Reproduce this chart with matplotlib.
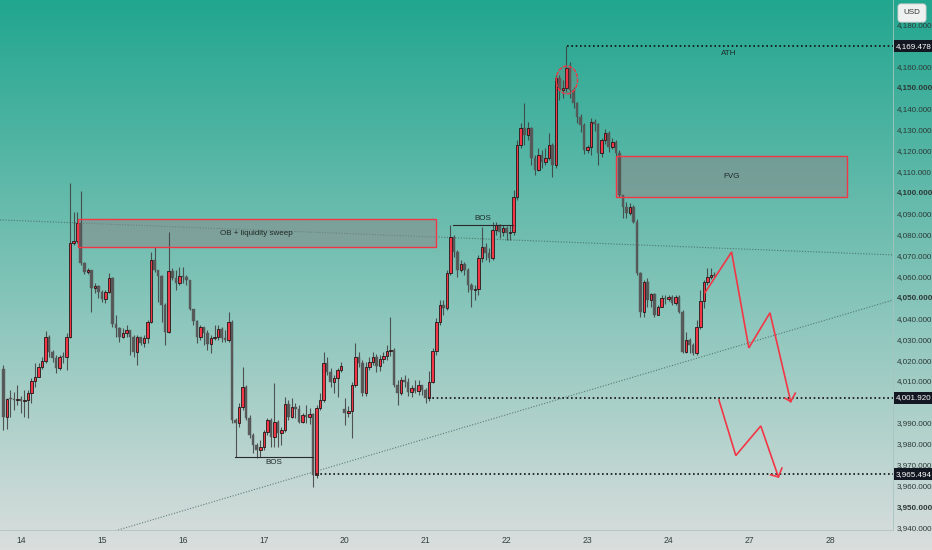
import matplotlib
matplotlib.use('Agg')
import matplotlib.pyplot as plt
import numpy as np
from matplotlib.patches import Rectangle, Ellipse
import matplotlib.transforms as mtransforms

plt.rcParams['font.family'] = ['Liberation Sans Narrow', 'Liberation Sans', 'DejaVu Sans']

# ---------------- data (hourly XAUUSD candles) ----------------
first_open = 4015.8
closes = [
    3992.9, 4001.5, 4001.5, 4001.0, 4001.5, 4000.5, 4001.0, 4004.3, 4010.1, 4012.0,
    4016.7, 4019.6, 4031.0, 4023.9, 4021.0, 4016.2, 4021.5, 4021.5, 4031.0, 4075.8,
    4076.8, 4085.3, 4066.3, 4062.0, 4062.9, 4054.4, 4055.3, 4052.5, 4049.1, 4052.5,
    4059.1, 4037.2, 4035.3, 4031.0, 4032.9, 4034.4, 4031.0, 4023.9, 4031.0, 4028.2,
    4030.5, 4038.2, 4067.7, 4062.9, 4060.1, 4046.3, 4033.4, 4062.5, 4059.1, 4056.7,
    4060.1, 4059.6, 4058.2, 4044.4, 4038.6, 4031.0, 4035.8, 4032.9, 4027.7, 4030.5,
    4031.0, 4034.8, 4030.5, 4029.6, 4038.2, 3991.5, 3990.0, 3997.7, 4007.2, 3992.4,
    3984.3, 3979.6, 3977.2, 3978.6, 3985.7, 3991.5, 3983.4, 3990.5, 3985.3, 3986.7,
    3999.1, 3992.9, 3997.7, 3996.7, 3990.5, 3993.9, 3992.9, 3994.5, 3965.3, 3997.2,
    4001.0, 4018.6, 4014.3, 4009.6, 4011.5, 4015.3, 4017.2, 3994.8, 3995.8, 4008.1,
    4021.5, 4018.6, 4004.3, 4016.7, 4019.1, 4021.5, 4017.0, 4020.5, 4022.0, 4024.4,
    4024.8, 4008.1, 4004.3, 4010.5, 4009.6, 4004.8, 4006.7, 4005.3, 4008.1, 4005.8,
    4001.9, 4009.6, 4024.4, 4038.2, 4046.3, 4044.8, 4061.5, 4078.7, 4071.5, 4062.9,
    4065.8, 4062.9, 4055.8, 4053.4, 4053.9, 4068.7, 4073.9, 4071.0, 4068.7, 4082.0,
    4084.4, 4081.1, 4083.0, 4080.6, 4081.1, 4097.7, 4122.5, 4130.6, 4127.3, 4130.6,
    4116.3, 4110.6, 4117.7, 4114.4, 4116.3, 4122.5, 4113.0, 4154.4, 4148.7, 4149.7,
    4159.2, 4148.7, 4142.5, 4136.0, 4132.0, 4120.1, 4121.5, 4133.5, 4132.5, 4118.7,
    4124.9, 4128.2, 4121.5, 4124.0, 4118.7, 4098.7, 4093.1, 4090.1, 4093.1, 4085.8,
    4061.5, 4043.0, 4057.2, 4048.6, 4051.5, 4041.5, 4045.3, 4049.6, 4049.1, 4050.0,
    4047.2, 4050.0, 4043.0, 4023.9, 4029.6, 4027.2, 4023.4, 4035.8, 4048.1, 4057.2,
    4059.6, 4060.6, 4060.1,
]
highs = [
    4017.7, 4002.0, 4005.8, 4004.8, 4008.1, 4003.0, 4005.8, 4005.8, 4011.5, 4018.6,
    4018.6, 4021.5, 4033.9, 4032.0, 4024.8, 4022.4, 4022.4, 4023.9, 4032.9, 4104.4,
    4090.6, 4090.6, 4100.6, 4066.8, 4063.9, 4062.9, 4056.7, 4055.8, 4053.4, 4053.4,
    4061.5, 4059.6, 4041.5, 4035.8, 4035.3, 4036.7, 4034.4, 4032.0, 4032.0, 4031.0,
    4032.0, 4039.1, 4071.5, 4073.9, 4062.9, 4060.6, 4047.2, 4081.1, 4063.9, 4062.9,
    4064.4, 4064.4, 4060.6, 4058.2, 4044.4, 4039.1, 4036.7, 4035.8, 4034.4, 4032.0,
    4036.7, 4036.7, 4035.8, 4034.4, 4042.9, 4039.1, 3992.4, 3999.6, 4016.7, 4008.1,
    3993.9, 3985.3, 3980.5, 3981.9, 3986.7, 3992.4, 3992.4, 4009.1, 3991.5, 3988.1,
    4002.4, 4001.0, 4002.0, 3999.6, 3998.6, 3994.8, 3998.6, 3997.0, 3994.8, 3998.6,
    4004.3, 4023.9, 4021.5, 4016.2, 4012.9, 4016.2, 4019.1, 4002.0, 3998.1, 4009.6,
    4028.2, 4023.9, 4020.1, 4019.1, 4021.5, 4023.9, 4023.0, 4022.5, 4024.0, 4027.2,
    4040.6, 4025.8, 4010.5, 4012.0, 4012.9, 4011.5, 4008.1, 4010.5, 4010.5, 4008.1,
    4006.7, 4015.0, 4025.8, 4040.1, 4048.6, 4048.6, 4062.9, 4084.4, 4079.6, 4072.5,
    4067.7, 4066.8, 4063.9, 4056.7, 4055.8, 4070.1, 4083.4, 4075.8, 4073.4, 4085.8,
    4085.8, 4084.9, 4084.4, 4083.9, 4084.4, 4101.1, 4124.9, 4133.0, 4142.5, 4133.5,
    4131.0, 4117.7, 4121.1, 4120.1, 4121.1, 4128.2, 4123.5, 4155.9, 4155.9, 4153.5,
    4169.5, 4162.1, 4150.0, 4143.0, 4137.5, 4133.0, 4122.5, 4135.5, 4135.0, 4133.0,
    4126.0, 4130.0, 4129.0, 4126.0, 4125.0, 4120.1, 4098.7, 4095.5, 4095.0, 4093.8,
    4087.0, 4062.0, 4058.2, 4059.1, 4052.0, 4052.0, 4046.0, 4051.0, 4051.0, 4051.0,
    4051.0, 4051.0, 4051.0, 4043.9, 4033.4, 4030.5, 4028.0, 4039.1, 4053.4, 4058.2,
    4063.9, 4063.9, 4062.0,
]
lows = [
    3986.7, 3987.2, 3992.9, 3996.2, 3998.6, 3995.0, 3992.9, 3992.4, 3999.6, 4007.2,
    4012.0, 4015.8, 4018.6, 4021.5, 4019.1, 4013.9, 4015.3, 4018.6, 4015.3, 4030.5,
    4074.9, 4075.8, 4065.3, 4061.0, 4061.0, 4042.9, 4052.0, 4049.6, 4047.7, 4047.2,
    4052.0, 4035.8, 4031.0, 4028.6, 4030.5, 4031.0, 4022.4, 4021.5, 4017.7, 4027.2,
    4026.3, 4028.2, 4037.7, 4062.0, 4047.7, 4038.2, 4027.2, 4032.9, 4058.2, 4053.4,
    4055.8, 4056.7, 4055.8, 4043.9, 4036.7, 4028.2, 4029.6, 4027.2, 4024.8, 4023.4,
    4029.6, 4029.6, 4028.6, 4028.6, 4028.6, 3990.0, 3973.8, 3988.1, 3996.2, 3991.5,
    3982.9, 3975.7, 3973.4, 3973.8, 3977.2, 3984.3, 3978.6, 3978.6, 3978.6, 3979.6,
    3985.7, 3991.5, 3992.4, 3992.4, 3990.0, 3990.0, 3990.0, 3989.5, 3959.5, 3963.8,
    3996.2, 4000.0, 4012.9, 4007.2, 4004.3, 4002.4, 4014.3, 3989.1, 3992.9, 3982.9,
    4007.2, 4016.7, 4002.9, 4002.9, 4015.3, 4017.7, 4014.5, 4015.0, 4018.5, 4020.1,
    4022.0, 4007.2, 3998.6, 4003.4, 4007.2, 4002.9, 4002.4, 4004.3, 4003.4, 4003.4,
    3999.6, 4000.5, 4009.1, 4022.4, 4036.7, 4041.5, 4043.9, 4060.6, 4069.1, 4059.6,
    4062.0, 4060.6, 4052.5, 4045.3, 4048.6, 4051.0, 4066.8, 4067.7, 4066.8, 4067.7,
    4079.6, 4078.2, 4079.1, 4077.2, 4077.2, 4079.6, 4096.3, 4121.1, 4122.5, 4125.0,
    4113.0, 4108.2, 4110.1, 4111.6, 4113.0, 4115.4, 4107.3, 4111.6, 4144.0, 4144.9,
    4147.8, 4144.9, 4140.0, 4133.0, 4128.5, 4118.0, 4118.5, 4117.5, 4129.0, 4113.0,
    4117.0, 4123.0, 4119.0, 4120.5, 4116.0, 4097.7, 4087.7, 4087.7, 4089.0, 4085.3,
    4060.5, 4040.6, 4040.6, 4045.3, 4045.3, 4040.6, 4041.5, 4045.3, 4046.7, 4048.0,
    4046.3, 4046.3, 4042.5, 4023.4, 4023.4, 4023.4, 4022.4, 4022.4, 4035.0, 4045.0,
    4056.0, 4058.7, 4059.6,
]
gap_opens = {97: 3996.5}

day_labels = ['14', '15', '16', '17', '20', '21', '22', '23', '24', '27', '28']
day_positions = [5, 28, 51, 74, 97, 120, 143, 166, 189, 212, 235]

# levels / annotations
level_prices = [4169.478, 4001.920, 3965.494]
level_labels = ['4,169.478', '4,001.920', '3,965.494']
level_starts = [160.1, 120.6, 88.8]

ob_zone = [21.1, 122.8, 4073.8, 4087.2]      # x0, x1, low, high
fvg_zone = [174.0, 239.7, 4097.9, 4117.3]
ath_circle = [160.1, 4153.5, 6.1, 13.3]      # x, y, width, height
bos1 = [65.8, 87.9, 3974.0]
bos2 = [127.8, 144.7, 4084.4]

trend1_x = [-0.94, 252.76]
trend1_y = [4086.8, 4070.1]
trend2_x = [32.6, 252.76]
trend2_y = [3939.0, 4048.6]

arrow1_x = [199.3, 206.9, 211.8, 217.8, 223.7]
arrow1_y = [4052.0, 4071.5, 4025.8, 4042.5, 4000.2]
head1_x = [222.1, 223.7, 225.0]
head1_y = [4001.8, 4000.2, 4004.2]
arrow2_x = [203.3, 208.1, 215.2, 220.2]
arrow2_y = [4001.0, 3974.5, 3988.6, 3964.3]
head2_x = [218.0, 220.2, 221.2]
head2_y = [3965.3, 3964.3, 3968.5]

xlim = (-0.94, 252.76)
ylim = (3939.0, 4191.6)
price_ticks = list(range(3940, 4190, 10))
hidden_ticks = [4170, 4000]   # covered by the price tags

# ---------------- figure ----------------
W, H = 932, 550
fig = plt.figure(figsize=(W / 100, H / 100), dpi=100)

# background gradient over whole figure
bg = fig.add_axes([0, 0, 1, 1], zorder=-10)
top = np.array([33, 166, 143]) / 255.0
bot = np.array([218, 222, 221]) / 255.0
t = np.linspace(0, 1, 550)[:, None]
grad = (top[None, :] * (1 - t) + bot[None, :] * t)[:, None, :]
bg.imshow(grad, aspect='auto', extent=[0, 1, 0, 1], origin='upper')
bg.set_axis_off()

ax = fig.add_axes([0, 20 / H, 893 / W, 530 / H])
ax.patch.set_alpha(0)
ax.set_xlim(*xlim)
ax.set_ylim(*ylim)

c = np.array(closes)
hgh = np.array(highs)
lw_ = np.array(lows)
o = np.concatenate([[first_open], c[:-1]])
for k, v in gap_opens.items():
    o[k] = v
x = np.arange(len(c))
up = c > o

# wicks
ax.vlines(x, lw_, hgh, color='#3d3d3d', linewidth=0.8, alpha=0.85, zorder=2)
bottom = np.minimum(o, c)
height = np.maximum(np.abs(c - o), 0.5)
ax.bar(x[~up], height[~up], bottom=bottom[~up], width=0.72, color='#575757',
       edgecolor='#575757', linewidth=0.3, zorder=3, alpha=0.95)
ax.bar(x[up], height[up], bottom=bottom[up], width=0.72, color='#f23645',
       edgecolor='#111111', linewidth=0.55, zorder=3)

# trend lines
ax.plot(trend1_x, trend1_y, color='#3f5f5a', linewidth=0.8, linestyle=(0, (1, 1.5)), alpha=0.75, zorder=1)
ax.plot(trend2_x, trend2_y, color='#3f5f5a', linewidth=0.8, linestyle=(0, (1, 1.5)), alpha=0.75, zorder=1)

# zones
for zone, label in [(ob_zone, 'OB + liquidity sweep'), (fvg_zone, 'FVG')]:
    x0, x1, lo, hi = zone
    ax.add_patch(Rectangle((x0, lo), x1 - x0, hi - lo, facecolor='#8a8a8a', alpha=0.55,
                           edgecolor='none', zorder=1.5))
    ax.add_patch(Rectangle((x0, lo), x1 - x0, hi - lo, facecolor='none',
                           edgecolor='#f23645', linewidth=1.0, zorder=4))
    ax.text((x0 + x1) / 2, (lo + hi) / 2, label, ha='center', va='center',
            fontsize=5.8, color='#1f2826', zorder=5)

# ATH circle
ax.add_patch(Ellipse((ath_circle[0], ath_circle[1]), ath_circle[2], ath_circle[3],
                     facecolor=(0.95, 0.21, 0.27, 0.10), edgecolor='#f23645',
                     linewidth=1.0, linestyle=(0, (3, 1)), zorder=4))

# BOS lines
ax.plot([bos1[0], bos1[1]], [bos1[2], bos1[2]], color='#2a2a2a', linewidth=0.8, zorder=4)
ax.text((bos1[0] + bos1[1]) / 2, bos1[2] - 1.2, 'BOS', ha='center', va='top',
        fontsize=5.8, color='#1f2826', zorder=5)
ax.plot([bos2[0], bos2[1]], [bos2[2], bos2[2]], color='#2a2a2a', linewidth=0.8, zorder=4)
ax.text((bos2[0] + bos2[1]) / 2, bos2[2] + 1.2, 'BOS', ha='center', va='bottom',
        fontsize=5.8, color='#1f2826', zorder=5)

# horizontal levels
for p, s in zip(level_prices, level_starts):
    ax.plot([s, xlim[1]], [p, p], color='#111111', linewidth=1.2,
            linestyle=(0, (1, 1.6)), zorder=4)
ax.text(206.2, level_prices[0] - 1.5, 'ATH', ha='center', va='top', fontsize=5.8,
        color='#1f2826', zorder=5)

# red arrows
red = '#f23645'
ax.plot(arrow1_x, arrow1_y, color=red, linewidth=1.2, zorder=5, solid_joinstyle='miter')
ax.plot(head1_x, head1_y, color=red, linewidth=1.2, zorder=5)
ax.plot(arrow2_x, arrow2_y, color=red, linewidth=1.2, zorder=5, solid_joinstyle='miter')
ax.plot(head2_x, head2_y, color=red, linewidth=1.2, zorder=5)

# axes styling
for s in ['top', 'left']:
    ax.spines[s].set_visible(False)
ax.spines['right'].set_color('#a6c4be')
ax.spines['right'].set_linewidth(0.6)
ax.spines['bottom'].set_color('#b4c2bf')
ax.spines['bottom'].set_linewidth(0.6)

ax.set_xticks(day_positions)
ax.set_xticklabels(day_labels)
ax.tick_params(axis='x', length=0, pad=4, labelsize=6.2, labelcolor='#34403e')

ax.yaxis.tick_right()
ax.set_yticks(price_ticks)
ax.set_yticklabels(['' if v in hidden_ticks else f'{v:,.3f}' for v in price_ticks])
ax.tick_params(axis='y', length=0, pad=3, labelsize=5.8, labelcolor='#2c3836')
for lab, v in zip(ax.get_yticklabels(), price_ticks):
    if v % 50 == 0:
        lab.set_fontweight('bold')

# price tags
trans = mtransforms.blended_transform_factory(ax.transAxes, ax.transData)
for p, lbl in zip(level_prices, level_labels):
    ax.text(1.0035, p, lbl, transform=trans, ha='left', va='center', color='white',
            fontsize=5.8, zorder=20, clip_on=False,
            bbox=dict(boxstyle='square,pad=0.3', facecolor='#131722', edgecolor='none'))

# USD box
fig.text(912 / W, 1 - 13 / H, 'USD', ha='center', va='center', fontsize=5.8,
         color='#333333', zorder=30,
         bbox=dict(boxstyle='round,pad=0.7,rounding_size=0.4', facecolor='#eef1f0',
                   edgecolor='#c4c8c7', linewidth=0.6))

fig.savefig('out.png', dpi=100)
